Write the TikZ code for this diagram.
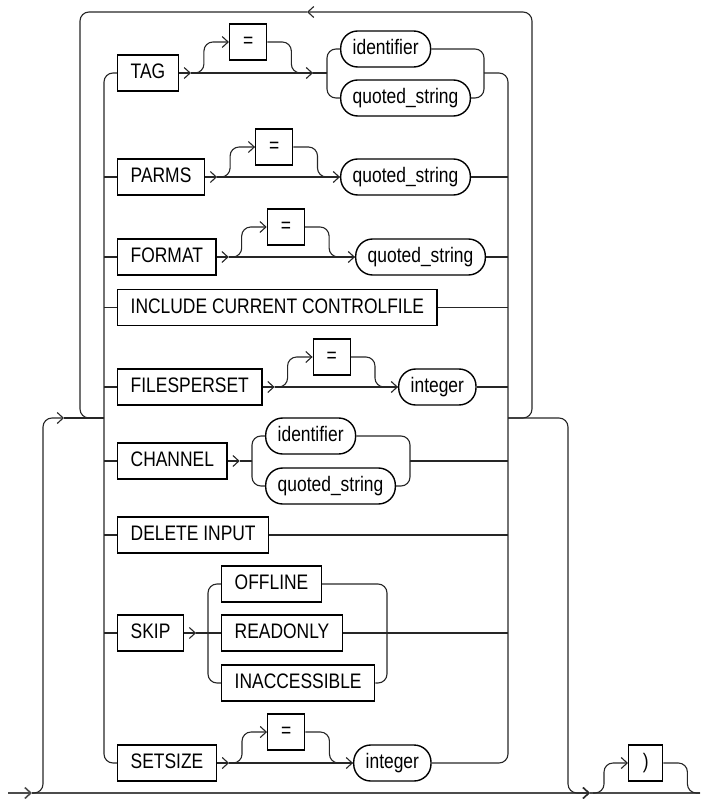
\documentclass[tikz,border=0pt]{standalone}
\usepackage{fontspec}
\setmainfont{Liberation Sans}[FakeStretch=0.83]
\usepackage{tikz}
\usetikzlibrary{positioning, calc, arrows.meta}

\begin{document}
\begin{tikzpicture}[
        x=1pt, y=-1pt,
        >={Straight Barb[length=6pt,width=11pt]},
        kw/.style={rectangle, draw, line width=1.4pt, minimum height=36pt, inner xsep=13pt, inner ysep=0pt, text height=15pt, text depth=4pt, anchor=west, font=\fontsize{21}{25}\selectfont},
        var/.style={kw, rounded corners=17pt, inner xsep=12pt},
        eqbox/.style={kw, minimum width=37pt, inner xsep=0pt},
        rail/.style={line width=1.1pt, draw=black!85, rounded corners=9pt},
        mainline/.style={line width=1.6pt, draw=black!70}
    ]
        \useasboundingbox (0,0) rectangle (706,799);

        % Keywords
        \node[kw] (TAG) at (117,73) {TAG};
        \node[kw] (PARMS) at (117,177) {PARMS};
        \node[kw] (FORMAT) at (117,257) {FORMAT};
        \node[kw] (INCL) at (117,307.5) {INCLUDE CURRENT CONTROLFILE};
        \node[kw] (FILES) at (117,387) {FILESPERSET};
        \node[kw] (CHANNEL) at (117,461) {CHANNEL};
        \node[kw] (DELETE) at (117,535) {DELETE INPUT};
        \node[kw] (SKIP) at (117,633) {SKIP};
        \node[kw] (SETSIZE) at (117,763) {SETSIZE};

        % Arrow points after the keywords
        \coordinate (TA) at ($(TAG.east)+(12,0)$);
        \coordinate (PA) at ($(PARMS.east)+(12,0)$);
        \coordinate (FA) at ($(FORMAT.east)+(12,0)$);
        \coordinate (FSA) at ($(FILES.east)+(12,0)$);
        \coordinate (CA) at ($(CHANNEL.east)+(12,0)$);
        \coordinate (SA) at ($(SKIP.east)+(12,0)$);
        \coordinate (SZA) at ($(SETSIZE.east)+(12,0)$);

        % Optional =
        \node[eqbox] (EQ1) at ($(TA)+(38,-31)$) {=};
        \node[eqbox] (EQ2) at ($(PA)+(38,-30)$) {=};
        \node[eqbox] (EQ3) at ($(FA)+(38,-30)$) {=};
        \node[eqbox] (EQ4) at ($(FSA)+(38,-30)$) {=};
        \node[eqbox] (EQ5) at ($(SZA)+(38,-31)$) {=};

        % Values
        \node[var] (ID1) at (340,49) {identifier};
        \node[var] (QS1) at (340,98) {quoted\_string};
        \node[var] (QS2) at (340,177) {quoted\_string};
        \node[var] (QS3) at (355,257) {quoted\_string};
        \node[var] (INT1) at (398,387) {integer};
        \node[var] (ID2) at (265,436) {identifier};
        \node[var] (QS4) at (265,486) {quoted\_string};
        \node[kw] (OFFLINE) at (221,584) {OFFLINE};
        \node[kw] (READONLY) at (221,633) {READONLY};
        \node[kw] (INACC) at (221,683) {INACCESSIBLE};
        \node[var] (INT2) at (353,763) {integer};
        \node[eqbox, minimum width=34pt] (RPAR) at (628,763) {)};

        % Junctions
        \coordinate (LBOT) at (104,763);
        \coordinate (RBOT) at (508,763);
        \coordinate (LJ) at (104,418);
        \coordinate (RJ) at (508,418);
        \coordinate (START) at (8,793);
        \coordinate (JIN) at (32,793);
        \coordinate (JOUT) at (590,793);
        \coordinate (END) at (700,793);
        \coordinate (LOOPIN) at (43,418);
        \coordinate (AIN) at (64,418);
        \coordinate (TOPL) at (80,12);
        \coordinate (TOPR) at (532,12);
        \coordinate (BACK) at (307,12);
        \coordinate (EXIT) at (568,418);
        \coordinate (PSTART) at (593,793);
        \coordinate (TB) at (313,73);
        \coordinate (TF) at (327,73);
        \coordinate (TM) at (484,73);
        \coordinate (CF) at (252,461);
        \coordinate (CM) at (410,461);
        \coordinate (SF) at (208,633);
        \coordinate (SM) at (387,633);

        % Main line and loop
        \draw[mainline, ->] (START) -- (JIN);
        \draw[mainline, ->] (JIN) -- (JOUT);
        \draw[mainline] (JOUT) -- (END);
        \draw[rail, ->] (JIN) -| (LOOPIN) -- (AIN);
        \draw[rail] (AIN) -- (LJ);
        \draw[rail, ->] (RJ) -| (TOPR) -- (BACK);
        \draw[rail] (BACK) -- (TOPL) |- (LJ);
        \draw[rail, ->] (RJ) -- (EXIT) |- (JOUT);
        \draw[rail, ->] (PSTART) -| ($(RPAR.west)+(-24,0)$) -- (RPAR.west);
        \draw[rail] (RPAR.east) -- ++(24,0) |- (END);

        % Rails
        \draw[rail] (TAG.west) -| (LBOT) -- (SETSIZE.west);
        \draw[rail] (TM) -| (RBOT) -- (INT2.east);
        \foreach \k in {PARMS, FORMAT, INCL, FILES, CHANNEL, DELETE, SKIP}
            \draw[rail] (\k.west -| LBOT) -- (\k.west);

        % TAG
        \draw[rail, ->] (TAG.east) -- (TA);
        \draw[rail, ->] (TA) -- (TB);
        \draw[rail, <-] (EQ1.west) -- ++(-25,0) |- (TA);
        \draw[rail] (EQ1.east) -- ++(24,0) |- (TB);
        \draw[rail] (TB) -- (TF);
        \draw[rail] (TF) |- (ID1.west);
        \draw[rail] (TF) |- (QS1.west);
        \draw[rail] (ID1.east) -| (TM);
        \draw[rail] (QS1.east) -| (TM);

        % PARMS
        \draw[rail, ->] (PARMS.east) -- (PA);
        \draw[rail, ->] (PA) -- (QS2.west);
        \draw[rail, <-] (EQ2.west) -- ++(-25,0) |- (PA);
        \draw[rail] (EQ2.east) -- ++(24,0) |- (QS2.west);
        \draw[rail] (QS2.east) -- (QS2.east -| RBOT);

        % FORMAT
        \draw[rail, ->] (FORMAT.east) -- (FA);
        \draw[rail, ->] (FA) -- (QS3.west);
        \draw[rail, <-] (EQ3.west) -- ++(-25,0) |- (FA);
        \draw[rail] (EQ3.east) -- ++(24,0) |- (QS3.west);
        \draw[rail] (QS3.east) -- (QS3.east -| RBOT);

        % INCLUDE CURRENT CONTROLFILE
        \draw[rail] (INCL.east) -- (INCL.east -| RBOT);

        % FILESPERSET
        \draw[rail, ->] (FILES.east) -- (FSA);
        \draw[rail, ->] (FSA) -- (INT1.west);
        \draw[rail, <-] (EQ4.west) -- ++(-25,0) |- (FSA);
        \draw[rail] (EQ4.east) -- ++(24,0) |- (INT1.west);
        \draw[rail] (INT1.east) -- (INT1.east -| RBOT);

        % CHANNEL
        \draw[rail, ->] (CHANNEL.east) -- (CA);
        \draw[rail] (CA) -- (CF);
        \draw[rail] (CF) |- (ID2.west);
        \draw[rail] (CF) |- (QS4.west);
        \draw[rail] (ID2.east) -| (CM);
        \draw[rail] (QS4.east) -| (CM);
        \draw[rail] (CM) -- (CM -| RBOT);

        % DELETE INPUT
        \draw[rail] (DELETE.east) -- (DELETE.east -| RBOT);

        % SKIP
        \draw[rail, ->] (SKIP.east) -- (SA);
        \draw[rail] (SA) -- (SF);
        \draw[rail] (SF) |- (OFFLINE.west);
        \draw[rail] (SF) -- (READONLY.west);
        \draw[rail] (SF) |- (INACC.west);
        \draw[rail] (OFFLINE.east) -| (SM);
        \draw[rail] (INACC.east) -| (SM);
        \draw[rail] (READONLY.east) -- (READONLY.east -| RBOT);

        % SETSIZE
        \draw[rail, ->] (SETSIZE.east) -- (SZA);
        \draw[rail, ->] (SZA) -- (INT2.west);
        \draw[rail, <-] (EQ5.west) -- ++(-25,0) |- (SZA);
        \draw[rail] (EQ5.east) -- ++(24,0) |- (INT2.west);
    \end{tikzpicture}
\end{document}
